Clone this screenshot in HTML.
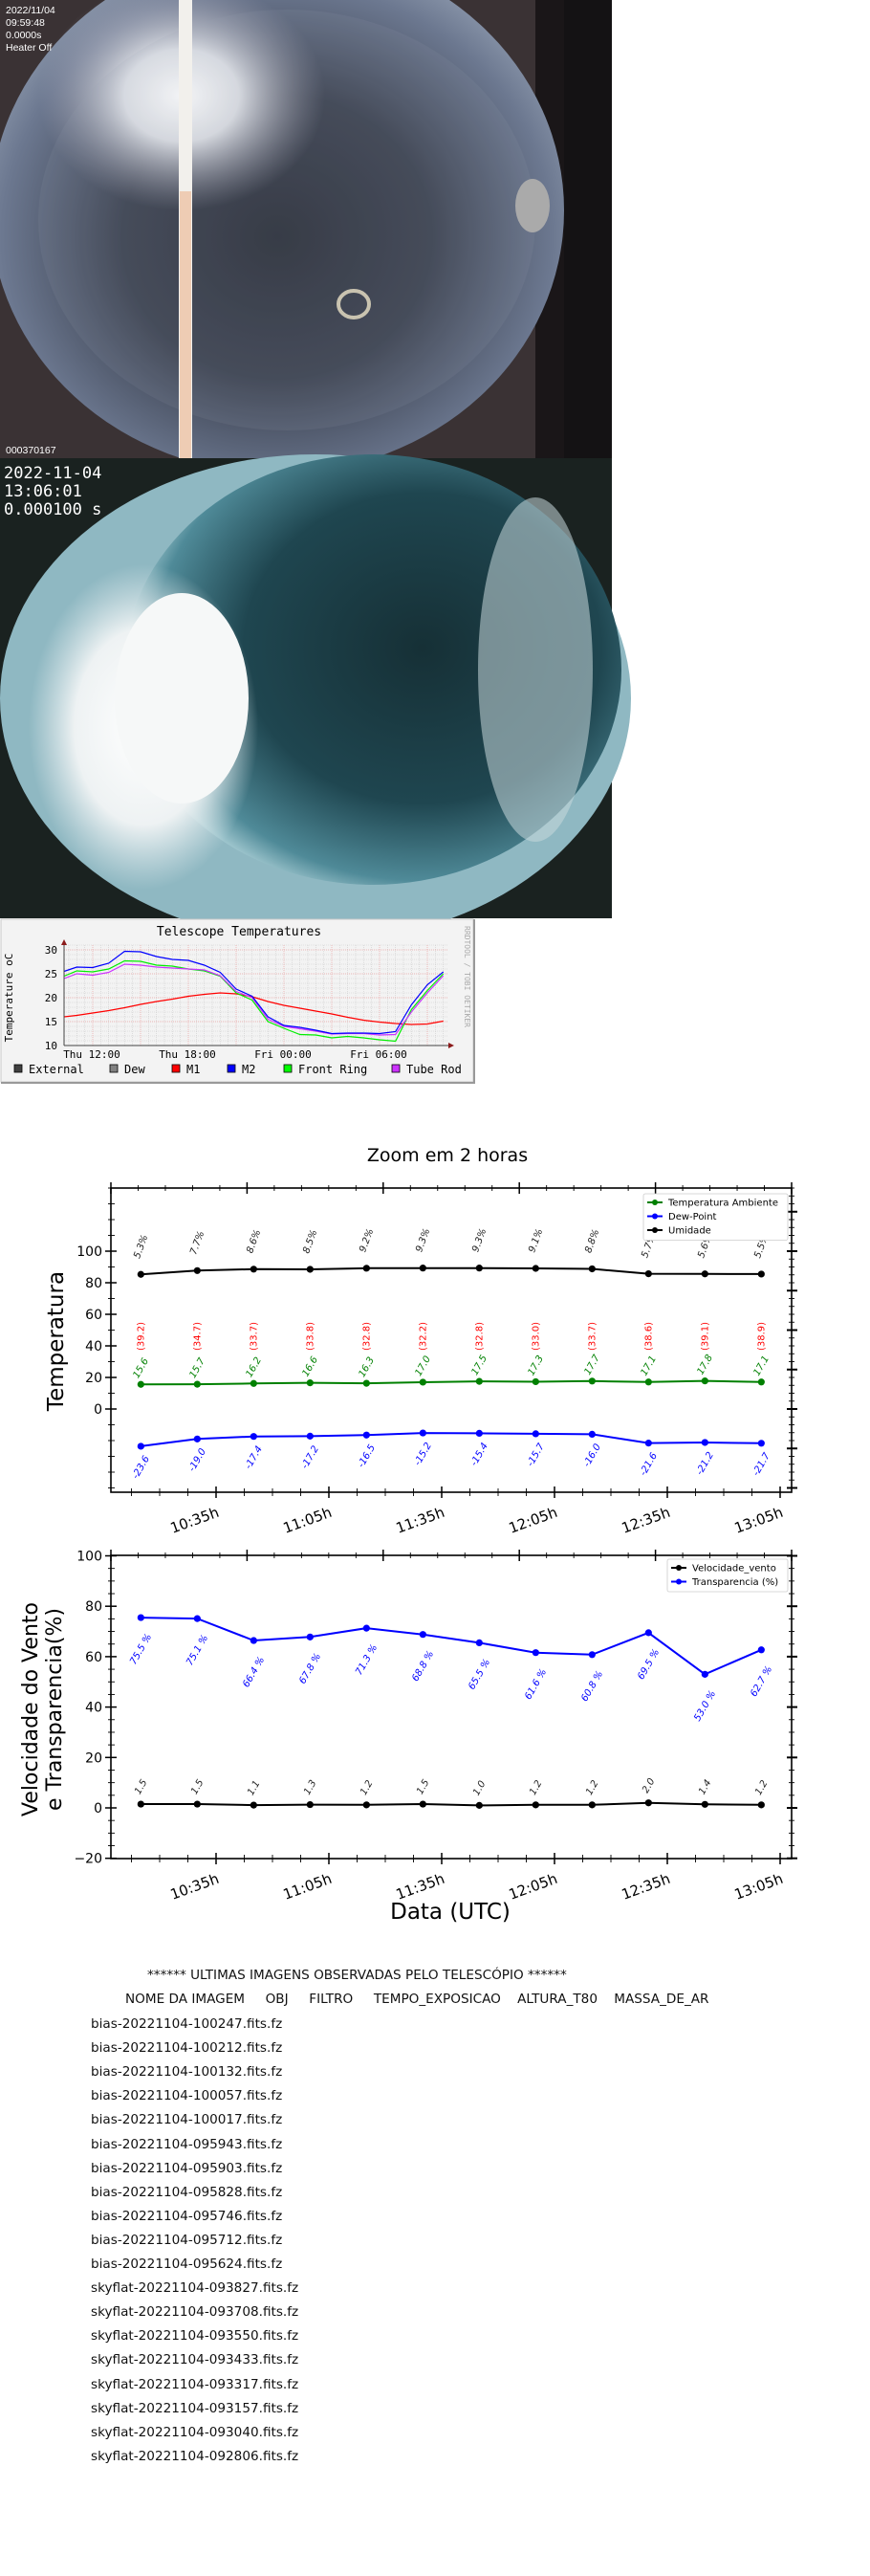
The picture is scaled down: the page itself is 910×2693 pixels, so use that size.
<!DOCTYPE html>
<html><head><meta charset="utf-8">
<style>
html,body{margin:0;padding:0;background:#fff;}
body{width:910px;height:2693px;position:relative;overflow:hidden;font-family:"DejaVu Sans","Liberation Sans",sans-serif;}
#main{position:absolute;left:0;top:0;}
.lst{position:absolute;font-family:"DejaVu Sans","Liberation Sans",sans-serif;font-size:13.6px;color:#111;white-space:pre;}
</style></head>
<body>
<svg id="main" width="910" height="2693" viewBox="0 0 910 2693" xmlns="http://www.w3.org/2000/svg">
<defs>
<radialGradient id="sky1" cx="0.5" cy="0.55" r="0.6">
<stop offset="0" stop-color="#2a2e38"/><stop offset="0.45" stop-color="#3a404e"/><stop offset="0.8" stop-color="#6c7890"/><stop offset="1" stop-color="#9aa6b8"/></radialGradient>
<radialGradient id="sun1" cx="0.5" cy="0.5" r="0.5"><stop offset="0" stop-color="#fff"/><stop offset="0.4" stop-color="#eef0f4" stop-opacity="0.9"/><stop offset="1" stop-color="#aab" stop-opacity="0"/></radialGradient>
<radialGradient id="sky2" cx="0.6" cy="0.45" r="0.6">
<stop offset="0" stop-color="#163036"/><stop offset="0.6" stop-color="#1f4650"/><stop offset="0.9" stop-color="#4f8a98"/><stop offset="1" stop-color="#9cc4cc"/></radialGradient>
<radialGradient id="sun2" cx="0.5" cy="0.5" r="0.5"><stop offset="0" stop-color="#fff"/><stop offset="0.6" stop-color="#eef2f3"/><stop offset="1" stop-color="#dfe9ec" stop-opacity="0"/></radialGradient>
<radialGradient id="vig1" cx="0.45" cy="0.5" r="0.62"><stop offset="0.85" stop-color="#000" stop-opacity="0"/><stop offset="1" stop-color="#000" stop-opacity="0.85"/></radialGradient>
</defs>

<g>
<rect x="0" y="0" width="640" height="479" fill="#1a1618"/>
<rect x="0" y="0" width="560" height="479" fill="#3a3234"/>
<ellipse cx="290" cy="220" rx="300" ry="275" fill="url(#sky1)"/>
<ellipse cx="190" cy="100" rx="150" ry="120" fill="url(#sun1)"/>
<ellipse cx="300" cy="230" rx="260" ry="220" fill="#9aa4b4" opacity="0.12"/>
<rect x="187" y="0" width="14" height="479" fill="#f2f0ec"/>
<rect x="188" y="200" width="12" height="279" fill="#e8a070" opacity="0.45"/>
<ellipse cx="370" cy="318" rx="16" ry="14" fill="none" stroke="#c9c3b0" stroke-width="4"/>
<ellipse cx="557" cy="215" rx="18" ry="28" fill="#aaa"/>
<rect x="590" y="0" width="50" height="479" fill="#141214"/>
<text x="6" y="14" font-family="Liberation Sans" font-size="10.5" fill="#fff">2022/11/04</text>
<text x="6" y="27" font-family="Liberation Sans" font-size="10.5" fill="#fff">09:59:48</text>
<text x="6" y="40" font-family="Liberation Sans" font-size="10.5" fill="#fff">0.0000s</text>
<text x="6" y="53" font-family="Liberation Sans" font-size="10.5" fill="#fff">Heater Off</text>
<text x="6" y="474" font-family="Liberation Sans" font-size="10.5" fill="#fff">000370167</text>
</g>

<g>
<rect x="0" y="479" width="640" height="481" fill="#1a2220"/>
<ellipse cx="330" cy="730" rx="330" ry="255" fill="#8fb8c2"/>
<ellipse cx="390" cy="700" rx="260" ry="225" fill="url(#sky2)"/>
<ellipse cx="150" cy="760" rx="120" ry="170" fill="url(#sun2)"/>
<ellipse cx="190" cy="730" rx="70" ry="110" fill="#f6f8f8"/>
<ellipse cx="560" cy="700" rx="60" ry="180" fill="#c8d8dc" opacity="0.55"/>
<text x="4" y="500" font-family="DejaVu Sans Mono" font-size="17" fill="#fff">2022-11-04</text>
<text x="4" y="519" font-family="DejaVu Sans Mono" font-size="17" fill="#fff">13:06:01</text>
<text x="4" y="538" font-family="DejaVu Sans Mono" font-size="17" fill="#fff">0.000100 s</text>
</g>

<g font-family="DejaVu Sans Mono">
<rect x="1" y="961" width="494" height="170" fill="#f3f3f3" stroke="#c8c8c8" stroke-width="1"/>
<line x1="496" y1="961" x2="496" y2="1132" stroke="#999" stroke-width="2"/>
<line x1="1" y1="1132" x2="497" y2="1132" stroke="#999" stroke-width="2"/>
<text x="250" y="978" font-size="13" text-anchor="middle" fill="#000">Telescope Temperatures</text>
<text x="486" y="968" font-size="8" fill="#aaa" transform="rotate(90 486 968)">RRDTOOL / TOBI OETIKER</text>
<text x="13" y="1043" font-size="11" text-anchor="middle" transform="rotate(-90 13 1043)">Temperature oC</text>
<g id="rrd"></g>
</g>

<text x="468" y="1214" font-size="19" text-anchor="middle" fill="#000">Zoom em 2 horas</text>
<g id="chart1"></g>
<g id="chart2"></g>
</svg>

<div class="lst" style="left:154px;top:2057px;">****** ULTIMAS IMAGENS OBSERVADAS PELO TELESCÓPIO ******</div>
<div class="lst" style="left:131px;top:2082px;">NOME DA IMAGEM     OBJ     FILTRO     TEMPO_EXPOSICAO    ALTURA_T80    MASSA_DE_AR</div>
<div id="list"></div>

<script>
const rrdHours=[10.2,11,12,13,14,15,16,17,18,19,20,21,22,23,24,25,26,27,28,29,30,31,32,33,34];
const rrdM1=[16,16.3,16.8,17.3,17.9,18.6,19.2,19.7,20.3,20.7,21,20.8,20.2,19.2,18.4,17.8,17.2,16.6,15.9,15.3,14.9,14.6,14.4,14.5,15.1];
const rrdM2=[25.5,26.4,26.3,27.2,29.7,29.6,28.6,28,27.8,26.8,25.3,21.8,20.3,16,14.2,13.8,13.2,12.5,12.6,12.6,12.5,12.9,18.5,22.7,25.4];
const rrdFront=[24.5,25.6,25.4,26,27.7,27.6,26.8,26.6,26,25.6,24.5,21,19.5,15,13.6,12.3,12.2,11.6,11.9,11.6,11.2,10.9,17.5,21.5,25];
const rrdTube=[24,25,24.7,25.3,27,26.8,26.4,26.2,26,25.8,24.6,21.3,20,15.5,14,13.5,13,12.4,12.5,12.5,12.2,12.3,17,21,24.6];
const rrdYTicks=[10,15,20,25,30];
const rrdXTicks=[12,18,24,30];
const rrdXLabels=["Thu 12:00","Thu 18:00","Fri 00:00","Fri 06:00"];
const rrdLegend=[["External","#404040"],["Dew","#808080"],["M1","#ff0000"],["M2","#0000ff"],["Front Ring","#00ff00"],["Tube Rod","#cc33ff"]];

const times=[15,30,45,60,75,90,105,120,135,150,165,180];
const xTickMin=[35,65,95,125,155,185];
const xTickLabels=["10:35h","11:05h","11:35h","12:05h","12:35h","13:05h"];
const humidity=[85.3,87.7,88.6,88.5,89.2,89.3,89.3,89.1,88.8,85.7,85.6,85.5];
const tempAmb=[15.6,15.7,16.2,16.6,16.3,17.0,17.5,17.3,17.7,17.1,17.8,17.1];
const dewPoint=[-23.6,-19.0,-17.4,-17.2,-16.5,-15.2,-15.4,-15.7,-16.0,-21.6,-21.2,-21.7];
const spread=[39.2,34.7,33.7,33.8,32.8,32.2,32.8,33.0,33.7,38.6,39.1,38.9];
const y1Ticks=[0,20,40,60,80,100];
const transparency=[75.5,75.1,66.4,67.8,71.3,68.8,65.5,61.6,60.8,69.5,53.0,62.7];
const windSpeed=[1.5,1.5,1.1,1.3,1.2,1.5,1.0,1.2,1.2,2.0,1.4,1.2];
const y2Ticks=[-20,0,20,40,60,80,100];

const NS="http://www.w3.org/2000/svg";
function mk(parent,tag,attrs,txt){const e=document.createElementNS(NS,tag);for(const k in attrs)e.setAttribute(k,attrs[k]);if(txt!==undefined)e.textContent=txt;parent.appendChild(e);return e;}

(function(){
const g=document.getElementById('rrd');
const X0=67,X1=468;
const rx=h=>97+(h-12)*100/6;
const ry=v=>993+(30-v)*5;
for(let v=10;v<=31;v++){ if(v%5) mk(g,'line',{x1:X0,x2:X1,y1:ry(v),y2:ry(v),stroke:'#ccc','stroke-width':0.6,'stroke-dasharray':'1,1'}); }
for(let h=10.5;h<=34.2;h+=0.5){ if(Math.abs(h%3)>0.01) mk(g,'line',{x1:rx(h),x2:rx(h),y1:988,y2:1093,stroke:'#ccc','stroke-width':0.6,'stroke-dasharray':'1,1'}); }
for(const v of rrdYTicks){ mk(g,'line',{x1:X0,x2:X1,y1:ry(v),y2:ry(v),stroke:'#e8a0a0','stroke-width':0.7,'stroke-dasharray':'1,1'});
 const t=mk(g,'text',{x:60,y:ry(v)+4,'font-size':11,'text-anchor':'end',fill:'#000'},String(v));
 }
for(let h=12;h<=34;h+=3){ mk(g,'line',{x1:rx(h),x2:rx(h),y1:988,y2:1093,stroke:'#e8a0a0','stroke-width':0.7,'stroke-dasharray':'1,1'}); }
rrdXTicks.forEach((h,i)=>{const t=mk(g,'text',{x:rx(h)-1,y:1106,'font-size':11,'text-anchor':'middle',fill:'#000'},rrdXLabels[i]);
 });
const series=[[rrdM1,'#ff0000','m1-line'],[rrdFront,'#00ee00','front-ring-line'],[rrdTube,'#cc33ff','tube-rod-line'],[rrdM2,'#0000ff','m2-line']];
for(const [arr,c,n] of series){const p=mk(g,'polyline',{points:arr.map((v,i)=>rx(rrdHours[i]).toFixed(1)+','+ry(v).toFixed(1)).join(' '),fill:'none',stroke:c,'stroke-width':1.2});
 }
mk(g,'line',{x1:X0,x2:X0,y1:1093,y2:985,stroke:'#444','stroke-width':1});
mk(g,'line',{x1:X0,x2:472,y1:1093,y2:1093,stroke:'#444','stroke-width':1});
mk(g,'polygon',{points:'64,988 70,988 67,982',fill:'#8b1a1a'});
mk(g,'polygon',{points:'469,1090 469,1096 475,1093',fill:'#8b1a1a'});
const lx=[15,115,180,238,297,410];
rrdLegend.forEach(([n,c],i)=>{const s=mk(g,'rect',{x:lx[i],y:1113,width:8,height:8,fill:c,stroke:'#000','stroke-width':0.8});
 
 const t=mk(g,'text',{x:lx[i]+15,y:1122,'font-size':12,fill:'#000'},n);
 });
})();

const L=116,R=828;
const xs=m=>226+(m-35)*(118/30);
function frame(g,top,bot,yfun,ymin,ymax,majors,minorStep,rightMajor,rightMinor){
 mk(g,'rect',{x:L,y:top,width:R-L,height:bot-top,fill:'none',stroke:'#000','stroke-width':1.6});
 for(let i=0;i<=25;i++){const x=L+(R-L)*i/25;const len=i%5===0?6:3;mk(g,'line',{x1:x,x2:x,y1:top-len,y2:top+len,stroke:'#000','stroke-width':i%5===0?1.5:0.9});}
 for(let m=12.5;m<=190;m+=7.5){const x=xs(m);if(x>R)break;const maj=Math.abs((m-35)%30)<0.01;const len=maj?6:4;mk(g,'line',{x1:x,x2:x,y1:bot-len,y2:bot+len,stroke:'#000','stroke-width':maj?1.5:0.9});}
 for(let v=Math.ceil(ymin/minorStep)*minorStep;v<=ymax;v+=minorStep){const y=yfun(v);const maj=majors.includes(v);mk(g,'line',{x1:L-(maj?6:3),x2:L+(maj?6:4),y1:y,y2:y,stroke:'#000','stroke-width':maj?1.5:0.9});}
 for(const v of majors){const t=mk(g,'text',{x:L-9,y:yfun(v)+5,'font-size':14,'text-anchor':'end',fill:'#000'},v<0?'\u2212'+(-v):String(v));
  }
 for(let v=Math.ceil(ymin/rightMinor)*rightMinor;v<=ymax;v+=rightMinor){const y=yfun(v);const maj=Math.abs(v%rightMajor)<0.01;mk(g,'line',{x1:R-(maj?5:3),x2:R+(maj?6:3),y1:y,y2:y,stroke:'#000','stroke-width':maj?2:0.9});}
 xTickMin.forEach((m,i)=>{const x=xs(m)+4,y=bot+25;const t=mk(g,'text',{x:x,y:y,'font-size':15,'text-anchor':'end',fill:'#000',transform:`rotate(-20 ${x} ${y})`},xTickLabels[i]);
  });
}
function series(g,vals,yfun,color,name){
 const p=mk(g,'polyline',{points:vals.map((v,i)=>xs(times[i]).toFixed(1)+','+yfun(v).toFixed(1)).join(' '),fill:'none',stroke:color,'stroke-width':2});
 
 vals.forEach((v,i)=>{const c=mk(g,'circle',{cx:xs(times[i]),cy:yfun(v),r:3.6,fill:color});
  });
}
function labels(g,vals,yfun,dy,color,rot,fmt,name,fixedY,italic){
 vals.forEach((v,i)=>{const x=xs(times[i]);const y=fixedY!==undefined?fixedY:yfun(v)+dy;
  const t=mk(g,'text',{x:x,y:y+3,'font-size':10,'font-style':italic===false?'normal':'italic','text-anchor':'middle',fill:color,transform:`rotate(${rot} ${x} ${y})`},fmt(v));
  });
}
function legend(g,x,y,w,items){
 const box=mk(g,'rect',{x:x,y:y,width:w,height:items.length*14.5+5,fill:'#fff',stroke:'#ccc','stroke-width':0.8,rx:2});
 
 items.forEach(([n,c],i)=>{const yy=y+9+i*14.5;mk(g,'line',{x1:x+4,x2:x+20,y1:yy,y2:yy,stroke:c,'stroke-width':2});mk(g,'circle',{cx:x+12,cy:yy,r:3,fill:c});
  const t=mk(g,'text',{x:x+26,y:yy+3.5,'font-size':10,fill:'#000'},n);
  });
}

(function(){
const g=document.getElementById('chart1');
const y1=v=>1473-v*1.65;
frame(g,1242,1560,y1,-52,140,y1Ticks,10,25,5);
series(g,humidity,y1,'#000','humidity');
series(g,tempAmb,y1,'#008000','temperature');
series(g,dewPoint,y1,'#0000ff','dew-point');
labels(g,humidity,y1,-29,'#222',-70,v=>(v%10).toFixed(1)+'%','humidity');
labels(g,spread,y1,0,'#ff0000',-90,v=>'('+v.toFixed(1)+')','spread',1397,false);
labels(g,tempAmb,y1,-17,'#008000',-60,v=>v.toFixed(1),'temperature');
labels(g,dewPoint,y1,22,'#0000ff',-60,v=>v.toFixed(1),'dew-point');
legend(g,673,1248,151,[['Temperatura Ambiente','#008000'],['Dew-Point','#0000ff'],['Umidade','#000']]);
const t=mk(g,'text',{x:66,y:1402,'font-size':23,'text-anchor':'middle',fill:'#000',transform:'rotate(-90 66 1402)'},'Temperatura');

})();

(function(){
const g=document.getElementById('chart2');
const y2=v=>1890-v*2.635;
frame(g,1626,1943,y2,-20,100,y2Ticks,5,20,5);
series(g,windSpeed,y2,'#000','wind-speed');
series(g,transparency,y2,'#0000ff','transparency');
labels(g,windSpeed,y2,-18,'#222',-60,v=>v.toFixed(1),'wind-speed');
labels(g,transparency,y2,33,'#0000ff',-60,v=>v.toFixed(1)+' %','transparency');
legend(g,698,1630,126,[['Velocidade_vento','#000'],['Transparencia (%)','#0000ff']]);
const a=mk(g,'text',{x:39,y:1787,'font-size':22,'text-anchor':'middle',fill:'#000',transform:'rotate(-90 39 1787)'},'Velocidade do Vento');

const b=mk(g,'text',{x:64,y:1787,'font-size':22,'text-anchor':'middle',fill:'#000',transform:'rotate(-90 64 1787)'},'e Transparencia(%)');

const c=mk(g,'text',{x:471,y:2006,'font-size':23,'text-anchor':'middle',fill:'#000'},'Data (UTC)');

})();

const imageNames=["bias-20221104-100247.fits.fz","bias-20221104-100212.fits.fz","bias-20221104-100132.fits.fz","bias-20221104-100057.fits.fz","bias-20221104-100017.fits.fz","bias-20221104-095943.fits.fz","bias-20221104-095903.fits.fz","bias-20221104-095828.fits.fz","bias-20221104-095746.fits.fz","bias-20221104-095712.fits.fz","bias-20221104-095624.fits.fz","skyflat-20221104-093827.fits.fz","skyflat-20221104-093708.fits.fz","skyflat-20221104-093550.fits.fz","skyflat-20221104-093433.fits.fz","skyflat-20221104-093317.fits.fz","skyflat-20221104-093157.fits.fz","skyflat-20221104-093040.fits.fz","skyflat-20221104-092806.fits.fz"];
const list=document.getElementById('list');
imageNames.forEach((n,i)=>{const d=document.createElement('div');d.className='lst';d.style.left='95px';d.style.top=(2108+i*25.1)+'px';d.textContent=n;
 
 
 list.appendChild(d);});
</script>
</body></html>
